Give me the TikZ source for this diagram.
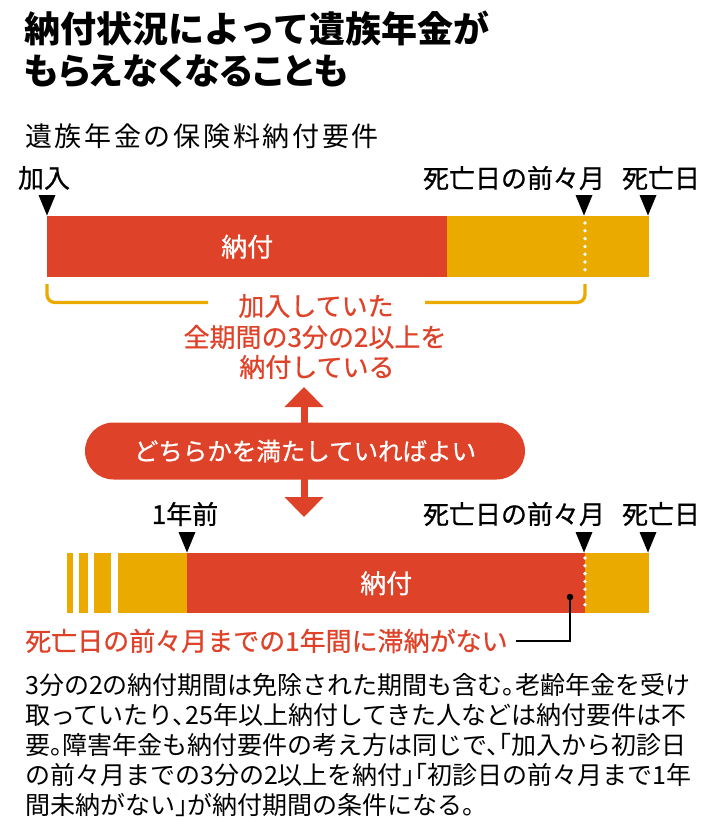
\documentclass[tikz,border=0pt]{standalone}
\usepackage{fontspec}
\setmainfont{Noto Sans CJK JP}
\newfontfamily\bodyfont[RawFeature=+halt]{Noto Sans CJK JP}
\newfontfamily\medfont[FakeBold=0.7]{Noto Sans CJK JP}
\newfontfamily\subfont[LetterSpace=10]{Noto Sans CJK JP}
\newfontfamily\ttlfont[RawFeature=+palt]{Noto Sans CJK JP}
\usetikzlibrary{arrows.meta}
\definecolor{nred}{HTML}{DE4229}
\definecolor{nyel}{HTML}{EAAA00}
\begin{document}
\begin{tikzpicture}[x=1pt,y=-1pt,
  lbl/.style={inner sep=0pt, font=\medfont\fontsize{26pt}{30pt}\selectfont},
  redtxt/.style={inner sep=0pt, text=nred, font=\medfont\fontsize{26pt}{30pt}\selectfont},
  body/.style={anchor=west, inner sep=0pt, font=\bodyfont\fontsize{25pt}{30pt}\selectfont},
  ttl/.style={anchor=west, inner sep=0pt, font=\bfseries\fontsize{36pt}{40pt}\selectfont},
  barred/.style={fill=nred, inner sep=0pt, anchor=north west, minimum height=61pt, text=white, font=\medfont\fontsize{26pt}{30pt}\selectfont},
  baryel/.style={fill=nyel, inner sep=0pt, anchor=north west, minimum height=61pt},
  brk/.style={draw=nyel, line width=3.3pt, rounded corners=8pt},
  dots/.style={white, line width=3.8pt, line cap=round, dash pattern=on 0pt off 7.8pt},
  tip/.style={fill=black}
]
\useasboundingbox (0,0) rectangle (710,828);

% title
\node[ttl] (t1) at (24,28) {納付状況によって遺族年金が};
\node[ttl, font=\ttlfont\bfseries\fontsize{36pt}{40pt}\selectfont] (t2) at (24,71) {もらえなくなることも};
\node[anchor=west, inner sep=0pt, font=\subfont\fontsize{27pt}{30pt}\selectfont] (sub) at (25,136) {遺族年金の保険料納付要件};

% ---- upper timeline
\node[lbl] (l1) at (44,178) {加入};
\node[lbl] (l2) at (514,178) {死亡日の前々月};
\node[lbl] (l3) at (661,178) {死亡日};
\foreach \x in {47,584,648} \fill[tip] (\x-8.5,195) -- (\x+8.5,195) -- (\x,215.5) -- cycle;

\node[barred, minimum width=400pt] (r1) at (47,216) {納付};
\node[baryel, minimum width=202pt] (y1) at (447,216) {};
\draw[dots] (585,223) -- (585,273);

\draw[brk] (208,302.5) -- (47,302.5) -- (47,284);
\draw[brk] (425,302.5) -- (585,302.5) -- (585,284);

\node[redtxt] (c1) at (316,306) {加入していた};
\node[redtxt] (c2) at (315,337) {全期間の3分の2以上を};
\node[redtxt] (c3) at (317,367) {納付している};

% ---- double arrow and pill
\coordinate (upT) at (304,387);
\coordinate (dnT) at (304,517);
\draw[nred, line width=7pt, {Triangle[width=38pt,length=20pt]}-{Triangle[width=38pt,length=20pt]}] (upT) -- (dnT);
\node[fill=nred, rounded corners=28.5pt, minimum width=440pt, minimum height=57pt, inner sep=0pt,
      text=white, font=\medfont\fontsize{24.5pt}{30pt}\selectfont] (pill) at (305,451) {どちらかを満たしていればよい};

% ---- lower timeline
\node[lbl] (m1) at (185,514) {1年前};
\node[lbl] (m2) at (514,514) {死亡日の前々月};
\node[lbl] (m3) at (661,514) {死亡日};
\foreach \x in {187,584,648} \fill[tip] (\x-8.5,532) -- (\x+8.5,532) -- (\x,552.5) -- cycle;

\node[baryel, minimum width=5.6pt, minimum height=60pt] (s1) at (66.7,553) {};
\node[baryel, minimum width=9.4pt, minimum height=60pt] (s2) at (78.3,553) {};
\node[baryel, minimum width=17pt, minimum height=60pt] (s3) at (94,553) {};
\node[baryel, minimum width=69.7pt, minimum height=60pt] (s4) at (117.3,553) {};
\node[barred, minimum width=398pt, minimum height=60pt] (r2) at (187,553) {納付};
\node[baryel, minimum width=64pt, minimum height=60pt] (y2) at (585,553) {};
\draw[dots] (585,558) -- (585,609);

\node[circle, fill=black, inner sep=0pt, minimum size=6.5pt] (dot) at (570,597) {};
\node[redtxt, anchor=west] (lab) at (25,641) {死亡日の前々月までの1年間に滞納がない};
\draw[line width=2pt] ([xshift=8pt]lab.east) -| (dot.center);

% ---- notes
\node[body] (b1) at (25,685) {3分の2の納付期間は免除された期間も含む。老齢年金を受け};
\node[body] (b2) at (25,715) {取っていたり、25年以上納付してきた人などは納付要件は不};
\node[body] (b3) at (25,745) {要。障害年金も納付要件の考え方は同じで、「加入から初診日};
\node[body] (b4) at (25,775) {の前々月までの3分の2以上を納付」「初診日の前々月まで1年};
\node[body] (b5) at (25,805) {間未納がない」が納付期間の条件になる。};
\end{tikzpicture}
\end{document}
